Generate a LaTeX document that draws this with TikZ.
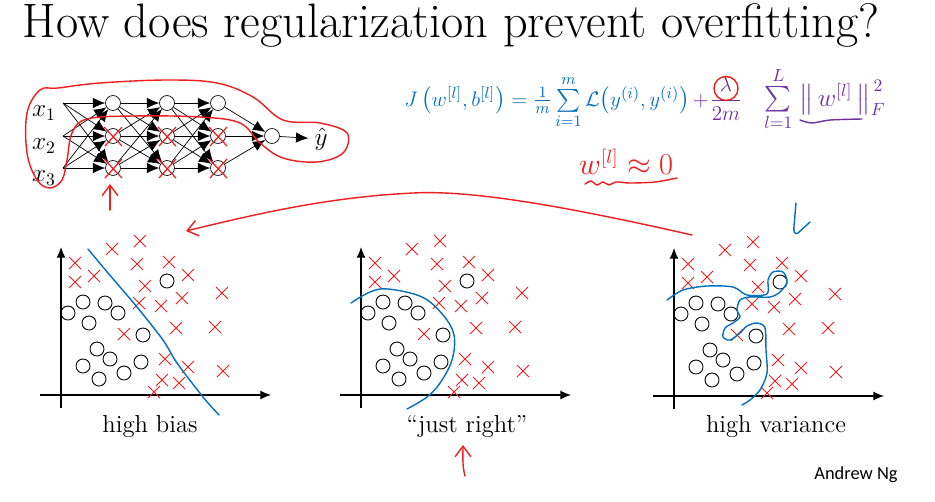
\documentclass[tikz,border=0pt]{standalone}
\usepackage{amsmath, amssymb}
\usepackage{fontspec}
\newfontfamily\ngfont{Carlito}
\usepackage{tikz}
\usetikzlibrary{arrows.meta, calc}
\definecolor{inkred}{RGB}{238, 30, 30}
\definecolor{inkblue}{RGB}{0, 112, 192}
\definecolor{inkpurple}{RGB}{112, 48, 160}
\def\circlepts{7/-82, 22/-93, 44/-92, 57/-82, 28/-72, 106/-114, 82/-60, 36/-46, 49/-36, 22/-29, 80/-33, 38/-16, 63/-22}
\def\crosspts{14/-132, 14/-113, 33/-119, 51/-146, 79/-154, 76/-131, 108/-133, 127/-120, 84/-109, 78/-92, 100/-89, 121/-97, 161/-102, 63/-61, 115/-67, 154/-68, 104/-36, 127/-28, 162/-24, 101/-15, 118/-12, 93/-3}

\begin{document}
\begin{tikzpicture}[x=0.02cm, y=-0.02cm,
  neuron/.style={draw, circle, inner sep=0pt, minimum size=8.5pt, line width=0.4pt},
  edge/.style={-{Latex[length=7pt,width=6pt]}, line width=0.4pt},
  axis/.style={-{Latex[length=6pt,width=5pt]}, line width=0.6pt},
  ink/.style={line width=0.8pt, line cap=round, line join=round},
  barb/.style={-{Straight Barb[length=6pt,width=9pt]}},
  eqfont/.style={font=\fontsize{13}{16}\selectfont, inner sep=0pt},
  plotlabel/.style={font=\fontsize{14}{17}\selectfont}]
  \fill[white] (0,0) rectangle (935,501);
  \useasboundingbox (0,0) rectangle (935,501);
  \node[font=\fontsize{27.5}{32}\selectfont] (title) at (451,25) {How does regularization prevent overfitting?};

  % network
  \foreach \r/\y in {1/103, 2/136, 3/168} {
    \coordinate (in\r) at (63,\y);
    \node[font=\fontsize{14}{17}\selectfont] (x\r) at (44,\y+10) {$x_\r$};
  }
  \foreach \l/\x in {1/113, 2/167, 3/218}
    \foreach \r/\y in {1/103, 2/136, 3/168}
      \node[neuron] (h\l\r) at (\x,\y) {};
  \node[neuron] (out) at (272,136) {};
  \node[font=\fontsize{14}{17}\selectfont] (yhat) at (321,139) {$\hat{y}$};
  \foreach \r in {1,2,3}
    \foreach \s in {1,2,3} {
      \draw[edge] (in\r) -- (h1\s);
      \draw[edge] (h1\r) -- (h2\s);
      \draw[edge] (h2\r) -- (h3\s);
    }
  \foreach \r in {1,2,3}
    \draw[edge] (h3\r) -- (out);
  \draw[edge] (out) -- (yhat);
  \foreach \l in {1,2,3}
    \foreach \r in {2,3}
      \draw[inkred, line width=0.7pt] ([shift={(-9,-9)}]h\l\r.center) -- ([shift={(9,10)}]h\l\r.center)
        ([shift={(-8,10)}]h\l\r.center) -- ([shift={(9,-9)}]h\l\r.center);
  \draw[inkred, ink] plot[smooth cycle, tension=0.6] coordinates {
    (58,88) (100,83) (167,80) (217,83) (253,97) (283,120) (320,123) (347,133)
    (343,153) (317,162) (283,158) (260,143) (240,123) (200,117) (133,116)
    (87,119) (72,133) (67,160) (62,180) (50,188) (37,180) (27,153) (27,113) (40,90)};
  \coordinate (droptail) at (110,210);
  \coordinate (droptip) at (110,184);
  \draw[inkred, ink, barb] (droptail) -- (droptip);

  % cost function
  \node[inkblue, eqfont, anchor=base west] (cost) at (404,106)
    {$J\,\bigl(w^{[l]}, b^{[l]}\bigr) = \frac{1}{m}\sum\limits_{i=1}^{m} \mathcal{L}\bigl(y^{(i)}, y^{(i)}\bigr)$};
  \node[inkpurple, eqfont, anchor=base] (plus) at (701,106) {$+$};
  \node[inkpurple, eqfont, anchor=base] (lamfrac) at (726,106) {$\dfrac{\lambda}{2m}$};
  \node[inkpurple, eqfont, font=\fontsize{14.5}{17}\selectfont, anchor=base west] (regsum) at (764,106)
    {$\sum\limits_{l=1}^{L}\;\bigl\|\,w^{[l]}\,\bigr\|_F^{\,2}$};
  \draw[inkred, ink] ([yshift=10pt]lamfrac.base) circle[radius=12];
  \draw[inkpurple, ink] plot[smooth] coordinates {(800,120) (812,123) (830,120) (862,119)};
  \node[inkred, font=\fontsize{16}{19}\selectfont] (wzero) at (626,162) {$w^{[l]} \approx 0$};
  \draw[inkred, ink] plot[smooth] coordinates {(585,184) (591,181) (597,185) (603,182) (609,185) (616,182) (630,183) (655,182) (677,178)};

  % arrows between plots
  \coordinate (varmark) at (692,235);
  \coordinate (biasmark) at (186,231);
  \draw[inkred, ink, barb] (varmark) .. controls (560,205) and (470,190) .. (413,193)
    .. controls (330,197) and (260,213) .. (biasmark);
  \draw[inkblue, ink] (796,203) -- (794,226) .. controls (793,232) and (795,235) .. (798,233) -- (810,222);
  \coordinate (justtail) at (465,476);
  \coordinate (justtip) at (463,445);
  \draw[inkred, ink, barb] (justtail) .. controls (462,465) and (463,455) .. (justtip);

  % the three data plots
  \foreach \ox/\oy in {61/395, 361/395, 674/396} {
    \begin{scope}[shift={(\ox,\oy)}]
      \draw[axis] (-21,0) -- (210,0);
      \draw[axis] (0,13) -- (0,-148);
      \foreach \a/\b in \circlepts
        \draw[line width=0.5pt] (\a,\b) circle[radius=7];
      \foreach \a/\b in \crosspts
        \draw[inkred, line width=0.5pt] (\a-6,\b-6) -- (\a+6,\b+6) (\a-6,\b+6) -- (\a+6,\b-6);
    \end{scope}
  }
  \draw[inkblue, ink] plot[smooth, tension=0.5] coordinates {
    (88,249) (108,273) (137,307) (163,340) (177,363) (203,397) (219,415)};
  \draw[inkblue, ink] plot[smooth, tension=0.6] coordinates {
    (351,303) (370,292) (388,289) (422,297) (443,315) (454,335) (452,360) (440,383) (427,397) (407,409)};
  \draw[inkblue, ink] plot[smooth, tension=0.5] coordinates {
    (667,300) (683,290) (707,286) (733,287) (747,295) (767,294) (768,280) (773,272) (783,272)
    (787,282) (780,292) (770,297) (750,297) (740,300) (737,310) (740,317) (733,323) (725,328)
    (723,337) (730,340) (740,333) (747,326) (757,323) (765,328) (766,350) (767,373) (760,390)
    (750,400) (742,405)};
  \node[plotlabel] (lbias) at (150,426) {high bias};
  \node[plotlabel] (ljust) at (467,426) {``just right''};
  \node[plotlabel] (lvar) at (776,426) {high variance};
  \node[font=\ngfont\fontsize{10.5}{12}\selectfont] (author) at (856,475) {Andrew Ng};
\end{tikzpicture}
\end{document}
